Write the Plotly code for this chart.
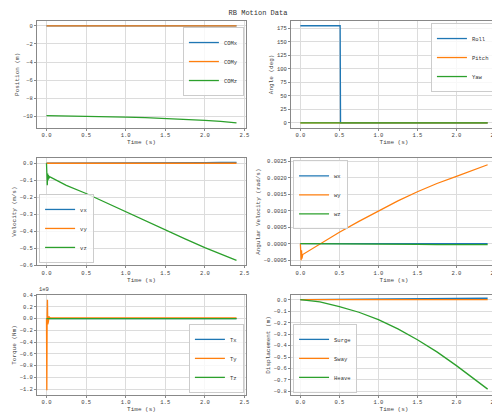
import plotly.graph_objects as go

C = ["#1f77b4", "#ff7f0e", "#2ca02c"]

t_pos = [0, 0.25, 0.5, 0.75, 1.0, 1.25, 1.5, 1.75, 2.0, 2.2, 2.4]
com_x = [0, 0, 0, 0, 0, 0, 0.01, 0.01, 0.01, 0.01, 0.01]
com_y = [0, 0, 0, 0, 0, 0, 0, 0, 0, 0, 0]
com_z = [-9.93, -9.95, -9.98, -10.02, -10.08, -10.14, -10.22, -10.32, -10.44, -10.56, -10.73]

t_ang = [0, 0.51, 0.515, 1.0, 1.5, 2.0, 2.4]
roll = [180, 180, 0, 0, 0, 0, 0]
pitch = [0, 0, 0, 0, 0, 0, 0]
yaw = [0, 0, 0, 0, 0, 0, 0]

t_vel = [0, 0.005, 0.01, 0.015, 0.02, 0.025, 0.03, 0.04, 0.05, 0.25, 0.5, 0.75, 1.0, 1.25, 1.5, 1.75, 2.0, 2.2, 2.4]
vx = [0, 0, 0, 0, 0, 0, 0, 0, 0, 0.001, 0.002, 0.002, 0.003, 0.003, 0.004, 0.004, 0.004, 0.005, 0.005]
vy = [0, 0, 0, 0, 0, 0, 0, 0, 0, 0, 0, 0, 0, 0, 0, 0, 0, 0, 0]
vz = [0, -0.05, -0.13, -0.06, -0.1, -0.07, -0.09, -0.08, -0.082, -0.13, -0.178, -0.232, -0.286, -0.34, -0.394, -0.445, -0.497, -0.535, -0.572]

t_om = [0, 0.01, 0.015, 0.02, 0.03, 0.25, 0.5, 0.75, 1.0, 1.25, 1.5, 1.75, 2.0, 2.2, 2.4]
wx = [0] * 15
wy = [0, -0.0005, -0.0002, -0.00045, -0.00033, 0.0, 0.00035, 0.00068, 0.001, 0.0013, 0.00158, 0.00183, 0.00205, 0.00223, 0.0024]
wz = [0, 0, 0, 0, 0, -0.00001, -0.00001, -0.00002, -0.00002, -0.00002, -0.00002, -0.00003, -0.00003, -0.00003, -0.00003]

t_tq = [0, 0.004, 0.008, 0.012, 0.016, 0.02, 0.025, 0.03, 0.035, 0.04, 0.05, 1.0, 2.4]
tx = [0, 0, 0, 0, 0, 0, 0, 0, 0, 0, 0, 0, 0]
ty = [0, -1.22, 0.05, 0.32, -0.1, 0.1, -0.05, 0.04, 0.0, 0.02, 0.01, 0.01, 0.01]
tz = [0, 0, 0, 0, 0, 0, 0, 0, 0, 0, 0, 0, 0]

t_dis = [0, 0.25, 0.5, 0.75, 1.0, 1.25, 1.5, 1.75, 2.0, 2.2, 2.4]
surge = [0, 0.001, 0.002, 0.003, 0.004, 0.005, 0.006, 0.008, 0.009, 0.011, 0.012]
sway = [0, 0, 0, 0, 0, 0, 0, 0, 0, 0, 0]
heave = [0, -0.02, -0.06, -0.11, -0.175, -0.255, -0.35, -0.455, -0.575, -0.675, -0.78]

panels = [
    (t_pos, [com_x, com_y, com_z], ["COMx", "COMy", "COMz"], "Position (m)", [-11.27, 0.55], 2, ".0f", (0.99, 0.62, "right", "middle")),
    (t_ang, [roll, pitch, yaw], ["Roll", "Pitch", "Yaw"], "Angle (deg)", [-9, 189], 25, ".0f", (0.99, 0.98, "right", "top")),
    (t_vel, [vx, vy, vz], ["vx", "vy", "vz"], "Velocity (m/s)", [-0.6, 0.03], 0.1, ".1f", (0.01, 0.02, "left", "bottom")),
    (t_om, [wx, wy, wz], ["wx", "wy", "wz"], "Angular Velocity (rad/s)", [-0.00065, 0.0026], 0.0005, ".4f", (0.01, 0.98, "left", "top")),
    (t_tq, [tx, ty, tz], ["Tx", "Ty", "Tz"], "Torque (Nm)", [-1.3, 0.4], 0.2, ".1f", (0.99, 0.02, "right", "bottom")),
    (t_dis, [surge, sway, heave], ["Surge", "Sway", "Heave"], "Displacement (m)", [-0.83, 0.04], 0.1, ".1f", (0.01, 0.02, "left", "bottom")),
]

xdoms = [[0.058, 0.476], [0.566, 0.978]]
ydoms = [[0.712, 0.969], [0.382, 0.639], [0.07, 0.31]]
FONT = "Liberation Mono"

fig = go.Figure()
layout = {}
for i, (t, ser, names, ytitle, yr, dt, fmt, lg) in enumerate(panels):
    n = i + 1
    sfx = "" if n == 1 else str(n)
    xd = xdoms[i % 2]
    yd = ydoms[i // 2]
    for s, nm, c in zip(ser, names, C):
        fig.add_trace(go.Scatter(x=t, y=s, name=nm, mode="lines", line=dict(color=c, width=1.3),
                                 xaxis="x" + sfx, yaxis="y" + sfx, legend="legend" + sfx))
    ax = dict(showline=True, mirror=True, linecolor="#888", linewidth=1, gridcolor="#dcdcdc",
              ticks="outside", ticklen=2, tickcolor="#888", zeroline=False, automargin=False,
              tickfont=dict(size=5.5, color="#444", family=FONT))
    layout["xaxis" + sfx] = dict(ax, domain=xd, anchor="y" + sfx, range=[-0.12, 2.52], dtick=0.5,
                                 tickformat=".1f", title=dict(text="Time (s)", font=dict(size=6, family=FONT, color="#444"), standoff=0))
    layout["yaxis" + sfx] = dict(ax, domain=yd, anchor="x" + sfx, range=yr, dtick=dt, tickformat=fmt,
                                 title=dict(text=ytitle, font=dict(size=6, family=FONT, color="#444"), standoff=2))
    lx = xd[0] + lg[0] * (xd[1] - xd[0])
    ly = yd[0] + lg[1] * (yd[1] - yd[0])
    layout["legend" + sfx] = dict(x=lx, y=ly, xanchor=lg[2], yanchor=lg[3], bgcolor="rgba(255,255,255,0.8)",
                                  bordercolor="#ccc", borderwidth=1, font=dict(size=5.5, family=FONT, color="#333"),
                                  itemwidth=30, tracegroupgap=0)

fig.update_layout(**layout)
fig.add_annotation(text="1e9", x=xdoms[0][0], y=ydoms[2][1], xref="paper", yref="paper",
                   xanchor="left", yanchor="bottom", showarrow=False, font=dict(size=5.5, family=FONT, color="#444"))
fig.update_layout(width=500, height=416, margin=dict(l=0, r=0, t=0, b=0), plot_bgcolor="white",
                  paper_bgcolor="white", font=dict(family=FONT),
                  title=dict(text="RB Motion Data", x=0.5, y=0.995, yanchor="top", font=dict(size=7, family=FONT, color="#333")))
fig.write_html("out.html")
